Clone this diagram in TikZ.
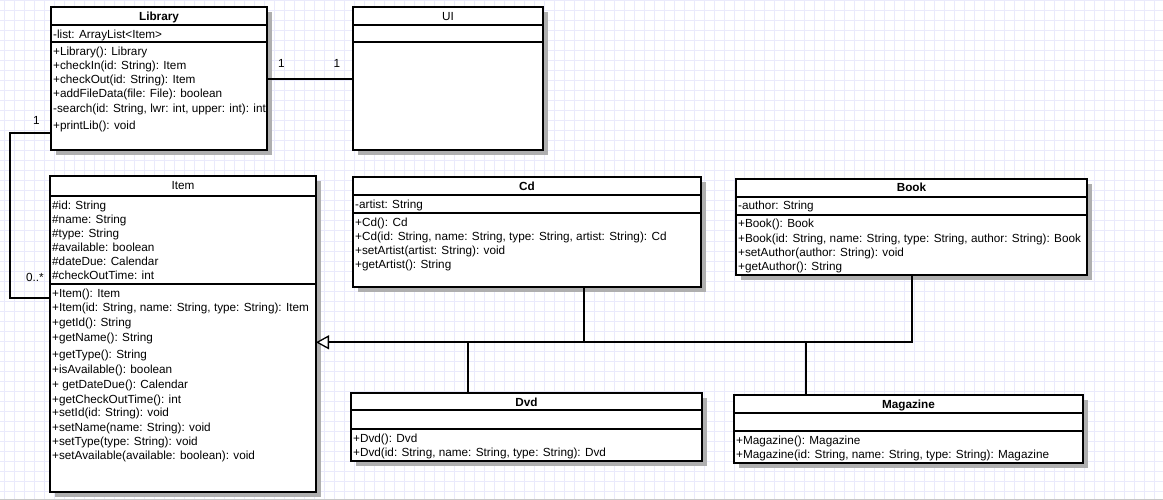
\documentclass[tikz,border=0pt]{standalone}
\usepackage{fontspec}
\setmainfont{Liberation Sans}
\usetikzlibrary{arrows.meta}
\definecolor{gridc}{RGB}{234,234,251}
\definecolor{shad}{RGB}{175,175,175}
\begin{document}
\begin{tikzpicture}[x=1pt,y=-1pt,
  cls/.style={draw, line width=2pt, fill=white, rectangle, inner sep=0pt, outer sep=0pt, anchor=north west},
  sep/.style={line width=2pt},
  shadowbox/.style={fill=shad, draw=none},
  txt/.style={anchor=base west, inner sep=0pt, font=\fontsize{11.75}{14}\selectfont},
  ttl/.style={anchor=base, inner sep=0pt, font=\fontsize{11.75}{14}\selectfont\bfseries},
  ttln/.style={anchor=base, inner sep=0pt, font=\fontsize{11.75}{14}\selectfont},
  mult/.style={anchor=center, inner sep=0pt, font=\fontsize{11.75}{14}\selectfont},
  conn/.style={line width=2pt}]
\useasboundingbox (0,0) rectangle (1163,500);
\fill[white] (0,0) rectangle (1163,500);
\foreach \x in {4,14,...,1164} \draw[gridc, line width=1pt] (\x,0) -- (\x,500);
\foreach \y in {1,11,...,501} \draw[gridc, line width=1pt] (0,\y) -- (1163,\y);
\draw[black!22, line width=1pt] (0,499) -- (1163,499);

% ---------- shadows ----------
\fill[shadowbox] (56,12) rectangle (272,155);
\fill[shadowbox] (358,12) rectangle (548,155);
\fill[shadowbox] (55,181) rectangle (321,497);
\fill[shadowbox] (358,182) rectangle (706,292);
\fill[shadowbox] (741,184) rectangle (1092,280);
\fill[shadowbox] (356,398) rectangle (707,466);
\fill[shadowbox] (739,400) rectangle (1088,468);

% ---------- Library ----------
\node[cls, minimum width=216pt, minimum height=143pt] (lib) at (51,7) {};
\draw[sep] (lib.west |- 0,25) -- (lib.east |- 0,25);
\draw[sep] (lib.west |- 0,42) -- (lib.east |- 0,42);
\node[ttl] (libT) at (159,20.5) {Library};
\node[txt] (libA1) at (53,38.5) {-list: ArrayList<Item>};
\node[txt] (libM1) at (53,55.5) {+Library(): Library};
\node[txt] (libM2) at (53,69.5) {+checkIn(id: String): Item};
\node[txt] (libM3) at (53,83.5) {+checkOut(id: String): Item};
\node[txt] (libM4) at (53,97.5) {+addFileData(file: File): boolean};
\node[txt] (libM5) at (53,112.5) {-search(id: String, lwr: int, upper: int): int};
\node[txt] (libM6) at (53,129.5) {+printLib(): void};

% ---------- UI ----------
\node[cls, minimum width=190pt, minimum height=143pt] (ui) at (353,7) {};
\draw[sep] (ui.west |- 0,25) -- (ui.east |- 0,25);
\draw[sep] (ui.west |- 0,42) -- (ui.east |- 0,42);
\node[ttln] (uiT) at (448,20.5) {UI};

% ---------- Item ----------
\node[cls, minimum width=266pt, minimum height=316pt] (item) at (50,176) {};
\draw[sep] (item.west |- 0,196) -- (item.east |- 0,196);
\draw[sep] (item.west |- 0,284) -- (item.east |- 0,284);
\node[ttln] (itemT) at (183,189.5) {Item};
\node[txt] (itA1) at (52,209.5) {\#id: String};
\node[txt] (itA2) at (52,223.5) {\#name: String};
\node[txt] (itA3) at (52,237.5) {\#type: String};
\node[txt] (itA4) at (52,251.5) {\#available: boolean};
\node[txt] (itA5) at (52,265.5) {\#dateDue: Calendar};
\node[txt] (itA6) at (52,279.5) {\#checkOutTime: int};
\node[txt] (itM1) at (52,297.2) {+Item(): Item};
\node[txt] (itM2) at (52,311.2) {+Item(id: String, name: String, type: String): Item};
\node[txt] (itM3) at (52,326.5) {+getId(): String};
\node[txt] (itM4) at (52,341.8) {+getName(): String};
\node[txt] (itM5) at (52,358.2) {+getType(): String};
\node[txt] (itM6) at (52,373.8) {+isAvailable(): boolean};
\node[txt] (itM7) at (52,388.8) {+ getDateDue(): Calendar};
\node[txt] (itM8) at (52,403.2) {+getCheckOutTime(): int};
\node[txt] (itM9) at (52,416.8) {+setId(id: String): void};
\node[txt] (itM10) at (52,431.2) {+setName(name: String): void};
\node[txt] (itM11) at (52,445.2) {+setType(type: String): void};
\node[txt] (itM12) at (52,459.2) {+setAvailable(available: boolean): void};

% ---------- Cd ----------
\node[cls, minimum width=348pt, minimum height=110pt] (cd) at (353,177) {};
\draw[sep] (cd.west |- 0,195) -- (cd.east |- 0,195);
\draw[sep] (cd.west |- 0,213) -- (cd.east |- 0,213);
\node[ttl] (cdT) at (527,190.2) {Cd};
\node[txt] (cdA1) at (355,208.2) {-artist: String};
\node[txt] (cdM1) at (355,226.2) {+Cd(): Cd};
\node[txt] (cdM2) at (355,240.2) {+Cd(id: String, name: String, type: String, artist: String): Cd};
\node[txt] (cdM3) at (355,254.2) {+setArtist(artist: String): void};
\node[txt] (cdM4) at (355,268.2) {+getArtist(): String};

% ---------- Book ----------
\node[cls, minimum width=351pt, minimum height=96pt] (book) at (736,179) {};
\draw[sep] (book.west |- 0,197) -- (book.east |- 0,197);
\draw[sep] (book.west |- 0,215) -- (book.east |- 0,215);
\node[ttl] (bookT) at (911.5,191.8) {Book};
\node[txt] (bkA1) at (738,209.8) {-author: String};
\node[txt] (bkM1) at (738,227.8) {+Book(): Book};
\node[txt] (bkM2) at (738,242.2) {+Book(id: String, name: String, type: String, author: String): Book};
\node[txt] (bkM3) at (738,256.2) {+setAuthor(author: String): void};
\node[txt] (bkM4) at (738,270.5) {+getAuthor(): String};

% ---------- Dvd ----------
\node[cls, minimum width=351pt, minimum height=68pt] (dvd) at (351,393) {};
\draw[sep] (dvd.west |- 0,410) -- (dvd.east |- 0,410);
\draw[sep] (dvd.west |- 0,429) -- (dvd.east |- 0,429);
\node[ttl] (dvdT) at (526.5,406.5) {Dvd};
\node[txt] (dvM1) at (353,442) {+Dvd(): Dvd};
\node[txt] (dvM2) at (353,456.2) {+Dvd(id: String, name: String, type: String): Dvd};

% ---------- Magazine ----------
\node[cls, minimum width=349pt, minimum height=68pt] (mag) at (734,395) {};
\draw[sep] (mag.west |- 0,413) -- (mag.east |- 0,413);
\draw[sep] (mag.west |- 0,431) -- (mag.east |- 0,431);
\node[ttl] (magT) at (908.5,408.5) {Magazine};
\node[txt] (mgM1) at (736,444.5) {+Magazine(): Magazine};
\node[txt] (mgM2) at (736,458.5) {+Magazine(id: String, name: String, type: String): Magazine};

% ---------- Associations ----------
\draw[conn] (lib.east |- 0,79) -- (ui.west |- 0,79);
\node[mult] (m1) at (281.5,63.5) {1};
\node[mult] (m2) at (337,63.5) {1};
\coordinate (bendA) at (10,133.5);
\coordinate (bendB) at (10,297.5);
\draw[conn] (lib.west |- bendA) -- (bendA) -- (bendB) -- (item.west |- bendB);
\node[mult] (m3) at (36.5,120.5) {1};
\node[mult] (m4) at (35,277) {0..*};

% ---------- Generalization ----------
\coordinate (gj) at (911.5,342.3);
\draw[conn, -{Triangle[length=13pt, width=14pt, fill=white, line width=1.3pt]}] (book.south) -- (gj) -- (item.east |- gj);
\draw[conn] (cd.south -| 584,0) -- (584,342.3);
\draw[conn] (dvd.north -| 468,0) -- (468,342.3);
\draw[conn] (mag.north -| 806,0) -- (806,342.3);
\end{tikzpicture}
\end{document}
